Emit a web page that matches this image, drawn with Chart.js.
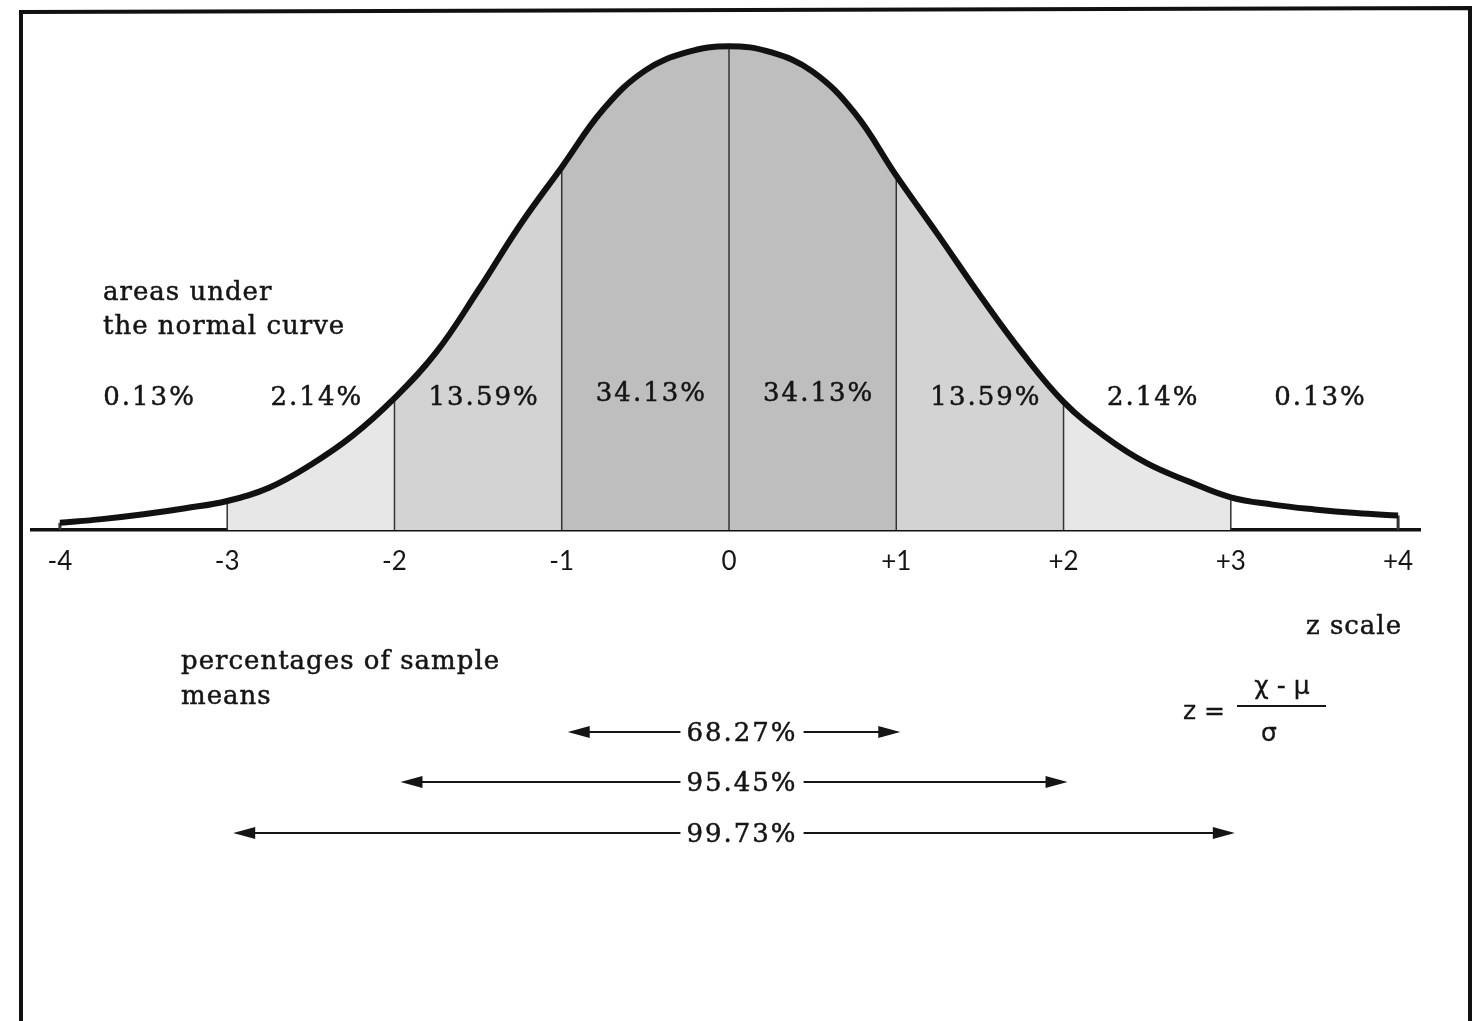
<!DOCTYPE html>
<html>
<head>
<meta charset="utf-8">
<title>Areas under the normal curve</title>
<script src="https://cdn.jsdelivr.net/npm/chart.js@4.4.0/dist/chart.umd.min.js"></script>
<style>
  html, body { margin: 0; padding: 0; background: #fff; }
  #wrap { width: 1476px; height: 1021px; }
</style>
</head>
<body>
<div id="wrap"><canvas id="normal_curve" width="1476" height="1021"></canvas></div>
<script>
// curve: z position and height of the curve there
var zPoints = [-4, -3.75, -3.5, -3.25, -3, -2.75, -2.5, -2.25, -2, -1.75, -1.5, -1.25, -1, -0.75, -0.5, -0.25, 0,
               0.25, 0.5, 0.75, 1, 1.25, 1.5, 1.75, 2, 2.25, 2.5, 2.75, 3, 3.25, 3.5, 3.75, 4];
var curveHeight = [0.006, 0.009, 0.013, 0.018, 0.024, 0.035, 0.054, 0.078, 0.109, 0.147, 0.198, 0.252, 0.300, 0.348, 0.380, 0.395, 0.400,
                   0.395, 0.379, 0.345, 0.293, 0.244, 0.194, 0.147, 0.106, 0.077, 0.055, 0.040, 0.027, 0.021, 0.017, 0.014, 0.012];

var zTicks = [-4, -3, -2, -1, 0, 1, 2, 3, 4];
var dividerZ = [-4, -3, -2, -1, 0, 1, 2, 3, 4];

// shaded bands under the curve
var bandFrom = [-3, -2, -1, 1, 2];
var bandTo = [-2, -1, 1, 2, 3];

var areaLabels = ['0.13%', '2.14%', '13.59%', '34.13%', '34.13%', '13.59%', '2.14%', '0.13%'];
var spreadZ = [1, 2, 3];
var spreadLabels = ['68.27%', '95.45%', '99.73%'];

var bandShade = ['#e7e7e7', '#d3d3d3', '#bebebe', '#d3d3d3', '#e7e7e7'];
var SERIF = '"DejaVu Serif", "Liberation Serif", serif';
var SANS = '"DejaVu Sans", Lato, sans-serif';

function heightAt(z) {
    return curveHeight[zPoints.indexOf(z)];
}

function pointsBetween(a, b) {
    var pts = [];
    for (var i = 0; i < zPoints.length; i++) {
        if (zPoints[i] >= a && zPoints[i] <= b) pts.push({ x: zPoints[i], y: curveHeight[i] });
    }
    return pts;
}

var datasets = [];
// the curve itself, drawn on top
datasets.push({
    data: zPoints.map(function (z, i) { return { x: z, y: curveHeight[i] }; }),
    borderColor: '#111',
    borderWidth: 6,
    tension: 0.4,
    pointRadius: 0,
    fill: false
});
// thin dividers at each whole z
dividerZ.forEach(function (z) {
    datasets.push({
        data: [{ x: z, y: 0 }, { x: z, y: heightAt(z) }],
        borderColor: '#333',
        borderWidth: (z === -4 || z === 4) ? 3 : 1.5,
        pointRadius: 0,
        fill: false
    });
});
bandFrom.forEach(function (a, i) {
    datasets.push({
        data: pointsBetween(a, bandTo[i]),
        borderWidth: 0,
        borderColor: 'rgba(0,0,0,0)',
        backgroundColor: bandShade[i],
        tension: 0.4,
        pointRadius: 0,
        fill: 'origin'
    });
});

// text drawn a touch heavier, like the printed original
function inkText(c, t, x, y) {
    c.fillText(t, x, y);
    c.strokeText(t, x, y);
}

var textPlugin = {
    id: 'textPlugin',
    beforeDraw: function (chart) {
        var c = chart.ctx;
        c.save();
        c.fillStyle = '#fff';
        c.fillRect(0, 0, chart.width, chart.height);
        // page frame
        c.strokeStyle = '#111';
        c.lineWidth = 4;
        c.beginPath();
        c.moveTo(21, 1021);
        c.lineTo(21, 12);
        c.lineTo(1470, 8);
        c.lineTo(1470, 1021);
        c.stroke();
        c.restore();
    },
    afterDraw: function (chart) {
        var c = chart.ctx;
        var xs = chart.scales.x;
        c.save();
        c.fillStyle = '#151515';
        c.strokeStyle = '#151515';
        c.lineWidth = 0.5;
        c.textBaseline = 'alphabetic';

        c.font = '26px ' + SERIF;
        c.letterSpacing = '1px';
        c.textAlign = 'left';
        inkText(c, 'areas under', 103, 300);
        inkText(c, 'the normal curve', 103, 334);
        inkText(c, 'percentages of sample', 181, 669);
        inkText(c, 'means', 181, 704);
        inkText(c, 'z scale', 1306, 634);

        // area percentages, one between each pair of ticks
        c.letterSpacing = '2px';
        c.textAlign = 'center';
        areaLabels.forEach(function (t, i) {
            var zc = (zTicks[i] + zTicks[i + 1]) / 2;
            var y = (t === '34.13%') ? 401 : 405;
            inkText(c, t, xs.getPixelForValue(zc) + 6, y);
        });

        // spread arrows
        var rowY = [732, 782, 833];
        var xc = xs.getPixelForValue(0) + 13;
        spreadZ.forEach(function (z, i) {
            var y = rowY[i];
            var t = spreadLabels[i];
            var w = c.measureText(t).width;
            c.lineWidth = 0.5;
            inkText(c, t, xc, y + 9);
            var left = xs.getPixelForValue(-z) + 6;
            var right = xs.getPixelForValue(z) + 4;
            c.lineWidth = 2;
            c.beginPath();
            c.moveTo(left + 10, y);
            c.lineTo(xc - w / 2 - 6, y);
            c.moveTo(xc + w / 2 + 6, y);
            c.lineTo(right - 10, y);
            c.stroke();
            c.beginPath();
            c.moveTo(left, y);
            c.lineTo(left + 22, y - 6);
            c.lineTo(left + 22, y + 6);
            c.closePath();
            c.moveTo(right, y);
            c.lineTo(right - 22, y - 6);
            c.lineTo(right - 22, y + 6);
            c.closePath();
            c.fill();
        });

        // z formula
        c.letterSpacing = '0px';
        c.font = '25px ' + SANS;
        c.lineWidth = 0.3;
        c.textAlign = 'left';
        inkText(c, 'z =', 1183, 719);
        c.textAlign = 'center';
        inkText(c, '\u03C7 - \u03BC', 1282, 694);
        inkText(c, '\u03C3', 1269, 741);
        c.lineWidth = 2;
        c.beginPath();
        c.moveTo(1237, 706);
        c.lineTo(1326, 706);
        c.stroke();
        c.restore();
    }
};

var ctx = document.getElementById('normal_curve').getContext('2d');
var chart = new Chart(ctx, {
    type: 'line',
    data: { datasets: datasets },
    options: {
        responsive: false,
        animation: false,
        devicePixelRatio: 1,
        layout: { padding: { left: 32, right: 56, top: 22, bottom: 0 } },
        plugins: {
            legend: { display: false },
            tooltip: { enabled: false }
        },
        scales: {
            x: {
                type: 'linear',
                min: -4.167,
                max: 4.131,
                afterBuildTicks: function (scale) {
                    scale.ticks = zTicks.map(function (v) { return { value: v }; });
                },
                afterFit: function (scale) {
                    scale.height = 491;
                },
                grid: { display: false, drawTicks: false },
                border: { display: true, color: '#111', width: 3.5 },
                ticks: {
                    autoSkip: false,
                    maxRotation: 0,
                    padding: 16,
                    color: '#151515',
                    font: { family: 'Lato, "DejaVu Sans", sans-serif', size: 26 },
                    callback: function (v) { return v > 0 ? '+' + v : String(v); }
                }
            },
            y: {
                display: false,
                min: 0,
                max: 0.42
            }
        }
    },
    plugins: [textPlugin]
});
</script>
</body>
</html>
